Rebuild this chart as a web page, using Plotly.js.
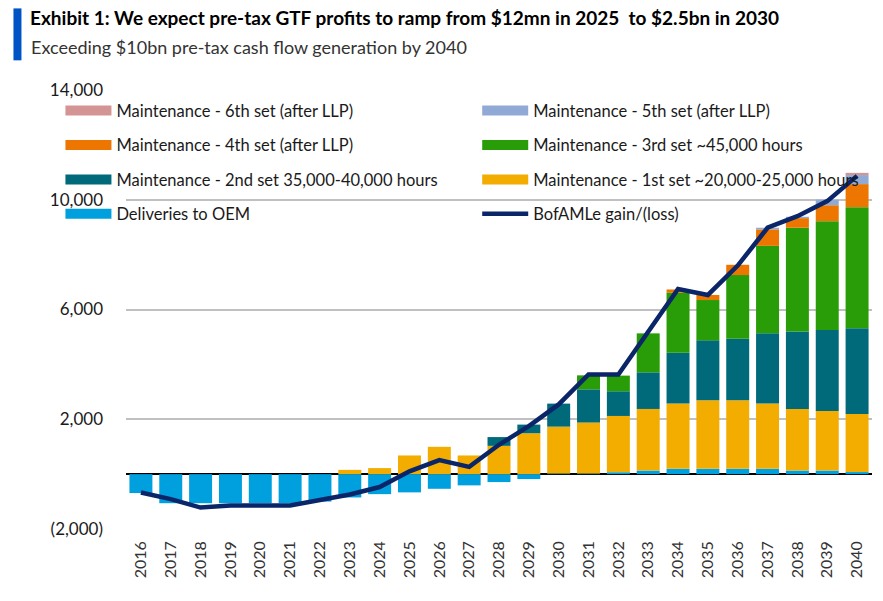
<!DOCTYPE html>
<html>
<head>
<meta charset="utf-8">
<script src="https://cdn.plot.ly/plotly-3.0.1.min.js"></script>
<style>html,body{margin:0;padding:0;background:#fff;}#chart{width:883px;height:601px;}</style>
</head>
<body>
<div id="chart"></div>
<script>
var years = ['2016','2017','2018','2019','2020','2021','2022','2023','2024','2025','2026','2027','2028','2029','2030','2031','2032','2033','2034','2035','2036','2037','2038','2039','2040'];
var deliveries = [-690,-1060,-1060,-1060,-1060,-1060,-1000,-850,-730,-665,-535,-410,-290,-180,20,20,70,130,195,195,195,195,130,130,75];
var set1 = [0,0,0,0,0,0,0,155,220,680,995,680,1030,1490,1710,1860,2050,2245,2375,2495,2495,2375,2245,2170,2115];
var set2 = [0,0,0,0,0,0,0,0,0,0,0,0,320,315,840,1210,900,1335,1855,2185,2245,2560,2820,2955,3130];
var set3 = [0,0,0,0,0,0,0,0,0,0,0,0,0,0,0,510,570,1420,2185,1470,2320,3190,3785,3965,4410];
var set4 = [0,0,0,0,0,0,0,0,0,0,0,0,0,0,0,0,0,0,120,185,375,600,350,580,840];
var set5 = [0,0,0,0,0,0,0,0,0,0,0,0,0,0,0,0,0,0,0,0,0,60,50,200,330];
var set6 = [0,0,0,0,0,0,0,0,0,0,0,0,0,0,0,0,0,0,0,0,0,0,0,0,80];
var gain = [-670,-910,-1220,-1140,-1140,-1140,-940,-740,-470,100,510,265,1070,1750,2540,3630,3630,5220,6750,6530,7600,8980,9400,9950,10870];

var yTickVals = [-2000,2000,6000,10000,14000];
var yTickText = ['(2,000)','2,000','6,000','10,000','14,000'];

var seriesDefs = [
  {name:'Deliveries to OEM', y:deliveries, color:'#00A0DF', legend:'legend', rank:4},
  {name:'Maintenance - 1st set ~20,000-25,000 hours', y:set1, color:'#F3AC00', legend:'legend2', rank:3},
  {name:'Maintenance - 2nd set 35,000-40,000 hours', y:set2, color:'#00697A', legend:'legend', rank:3},
  {name:'Maintenance - 3rd set ~45,000 hours', y:set3, color:'#289D07', legend:'legend2', rank:2},
  {name:'Maintenance - 4th set (after LLP)', y:set4, color:'#EC7600', legend:'legend', rank:2},
  {name:'Maintenance - 5th set (after LLP)', y:set5, color:'#91A9D5', legend:'legend2', rank:1},
  {name:'Maintenance - 6th set (after LLP)', y:set6, color:'#D49494', legend:'legend', rank:1}
];

var FONT = 'Lato, "Noto Sans", sans-serif';
var traces = [];
seriesDefs.forEach(function(s, i){
  traces.push({
    type:'bar', x:years, y:s.y, name:s.name, showlegend:false,
    legendgroup:'g'+i, marker:{color:s.color, line:{width:0}}
  });
  traces.push({
    type:'scatter', mode:'lines', x:[null], y:[null], name:s.name,
    legend:s.legend, legendgroup:'g'+i, legendrank:s.rank,
    line:{color:s.color, width:10}, hoverinfo:'skip'
  });
});
traces.push({
  type:'scatter', mode:'lines', x:years, y:gain, name:'BofAMLe gain/(loss)',
  legend:'legend2', legendgroup:'gline', legendrank:4,
  line:{color:'#0B2569', width:4.5}
});

var L = 125.6, R = 872, T = 89.7, B = 529.2;
var W = R - L, H = B - T;
function px(x){ return (x - L) / W; }
function py(y){ return (B - y) / H; }

var legendCommon = {
  orientation:'v', traceorder:'grouped', tracegroupgap:10, itemwidth:46,
  bgcolor:'rgba(0,0,0,0)', borderwidth:0,
  font:{family:FONT, size:16.5, color:'#1a1a1a'}, yanchor:'top', xanchor:'left'
};

var layout = {
  width:883, height:601,
  margin:{l:L, r:883-R, t:T, b:601-B, pad:0},
  paper_bgcolor:'#ffffff', plot_bgcolor:'#ffffff',
  font:{family:FONT, size:16, color:'#1a1a1a'},
  barmode:'relative', bargap:0.23,
  title:{
    text:'<b>Exhibit 1: We expect pre-tax GTF profits to ramp from $12mn in 2025  to $2.5bn in 2030</b>',
    x:30/883, xanchor:'left', xref:'container', y:1-12/601, yanchor:'top', yref:'container',
    font:{family:FONT, size:19, color:'#000000'}
  },
  xaxis:{
    type:'category', categoryorder:'array', categoryarray:years,
    tickangle:-90, tickfont:{family:FONT, size:16, color:'#333333'},
    showgrid:false, zeroline:false, showline:false, ticks:'', ticklabelstandoff:8
  },
  yaxis:{
    range:[-2000,14000], tickvals:yTickVals, ticktext:yTickText,
    tickfont:{family:FONT, size:17, color:'#1a1a1a'},
    showgrid:true, gridcolor:'#C0C0C0', gridwidth:2,
    zeroline:true, zerolinecolor:'#000000', zerolinewidth:1.5,
    showline:false, ticks:'', ticklabelstandoff:22
  },
  legend:Object.assign({}, legendCommon, {x:px(60), y:py(93)}),
  legend2:Object.assign({}, legendCommon, {x:px(477), y:py(93)}),
  shapes:[{
    type:'rect', xref:'paper', yref:'paper',
    x0:px(13), x1:px(21), y0:py(60), y1:py(8),
    fillcolor:'#0053C4', line:{width:0}
  }],
  annotations:[{
    text:'Exceeding $10bn pre-tax cash flow generation by 2040',
    xref:'paper', yref:'paper', x:px(29), y:py(34), xanchor:'left', yanchor:'top',
    showarrow:false, font:{family:FONT, size:18, color:'#333333'}
  }]
};

Plotly.newPlot('chart', traces, layout, {displayModeBar:false, staticPlot:true});
</script>
</body>
</html>
